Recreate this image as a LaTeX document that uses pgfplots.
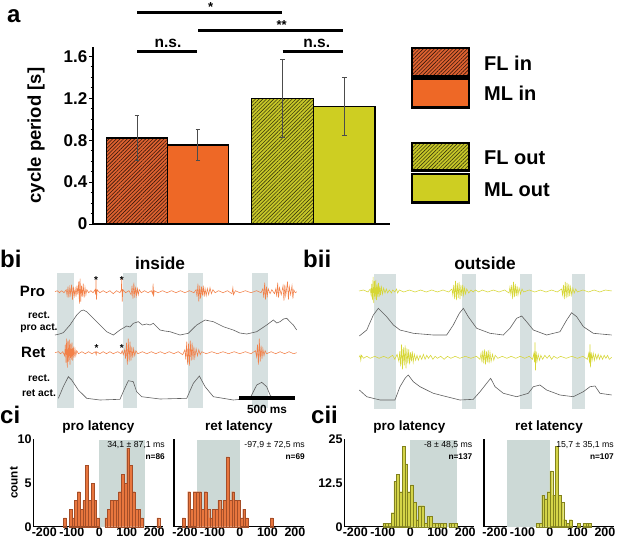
\documentclass[border=0pt]{standalone}
\usepackage{fontspec}
\setmainfont{Liberation Sans}
\usepackage{pgfplots}
\pgfplotsset{compat=1.18}
\usetikzlibrary{patterns.meta}
\newcommand{\fs}[1]{\fontsize{#1}{#1}\selectfont}
\definecolor{orB}{RGB}{238,104,38}
\definecolor{orF}{RGB}{222,98,48}
\definecolor{yeA}{RGB}{206,206,34}
\definecolor{yeF}{RGB}{200,200,40}
\definecolor{orTr}{RGB}{242,128,72}
\definecolor{yeTr}{RGB}{214,214,52}
\definecolor{band}{RGB}{214,224,224}
\definecolor{hband}{RGB}{204,217,214}
\definecolor{orH}{RGB}{232,118,62}
\definecolor{orHd}{RGB}{165,78,40}
\definecolor{yeH}{RGB}{212,212,72}
\definecolor{yeHd}{RGB}{130,130,30}
\definecolor{env}{RGB}{95,95,95}
\pgfplotsset{
  histo/.style={scale only axis, width=130pt, height=87.4pt, anchor=south west,
    xmin=-240, xmax=233, ymin=0, axis lines=left,
    axis line style={-, line width=1.3pt},
    xtick={-200,-100,0,100,200}, major tick length=0pt,
    /pgf/number format/assume math mode=true,
    ticklabel style={font=\fs{12.5}\bfseries},
    xticklabel style={inner sep=1pt},
    yticklabel style={inner sep=1.5pt},
    clip=false,
    title style={at={(axis description cs:0.5,1)}, anchor=base, yshift=3pt, font=\fs{13.5}\bfseries}},
  trace/.style={scale only axis, anchor=south west, height=142pt, ymin=130, ymax=272, hide axis, clip=false},
  ebar/.style={error bars/.cd, y dir=both, y explicit, error bar style={line width=0.9pt, draw=black!70},
    error mark options={rotate=90, line width=0.9pt, draw=black!70, mark size=2.3pt}}
}
\begin{document}
\begin{tikzpicture}
\useasboundingbox (0pt,0pt) rectangle (617pt,542pt);
% ================= panel a
\begin{axis}[at={(93pt,318pt)}, anchor=south west, scale only axis, width=297pt, height=177pt,
  xmin=93, xmax=390, ymin=0, ymax=1.69,
  axis lines=left, axis line style={-, line width=1.4pt},
  xtick=\empty,
  ytick={0,0.4,0.8,1.2,1.6}, yticklabels={0,0.4,0.8,1.2,1.6},
  minor y tick num=3,
  tick align=outside, major tick length=4pt, minor tick length=2.5pt,
  tick style={line width=0.8pt, black},
  yticklabel style={font=\fs{17}\bfseries, inner sep=1.5pt},
  ylabel={cycle period [s]},
  ylabel style={font=\fs{18.5}\bfseries, at={(axis description cs:0,0.5)}, anchor=center, yshift=57pt},
  clip=false]
\addplot[ybar, bar width=61, bar shift=0pt, fill=orF, draw=black, line width=1.3pt,
  postaction={pattern={Lines[angle=45,distance=2.6pt,line width=0.6pt]}, pattern color=black!75!orF}, ebar]
  coordinates {(137,0.82) +- (0,0.215)};
\addplot[ybar, bar width=61, bar shift=0pt, fill=orB, draw=black, line width=1.3pt, ebar]
  coordinates {(197.8,0.755) +- (0,0.15)};
\addplot[ybar, bar width=61.6, bar shift=0pt, fill=yeF, draw=black, line width=1.3pt,
  postaction={pattern={Lines[angle=45,distance=2.6pt,line width=0.6pt]}, pattern color=black!70!yeF}, ebar]
  coordinates {(282.5,1.2) +- (0,0.373)};
\addplot[ybar, bar width=61.7, bar shift=0pt, fill=yeA, draw=black, line width=1.3pt, ebar]
  coordinates {(344.2,1.122) +- (0,0.278)};
\end{axis}
\node[anchor=base west, font=\fs{24}\bfseries, inner sep=0pt] at (7pt,519pt) {a};
\draw[line width=3pt] (137pt,529.3pt) -- (281.7pt,529.3pt);
\draw[line width=3pt] (198pt,511pt) -- (343pt,511pt);
\draw[line width=3pt] (137pt,490.3pt) -- (197pt,490.3pt);
\draw[line width=3pt] (282.7pt,490.3pt) -- (343pt,490.3pt);
\node[anchor=base, font=\fs{13}\bfseries, inner sep=0pt] at (210.7pt,530.5pt) {*};
\node[anchor=base, font=\fs{13}\bfseries, inner sep=0pt] at (281.7pt,512.5pt) {**};
\node[anchor=base, font=\fs{15.5}\bfseries, inner sep=0pt] at (168pt,494pt) {n.s.};
\node[anchor=base, font=\fs{15.5}\bfseries, inner sep=0pt] at (316.7pt,494pt) {n.s.};
% legend
\fill[orF] (412pt,465.7pt) rectangle (469pt,494pt);
\path[pattern={Lines[angle=45,distance=2.6pt,line width=0.6pt]}, pattern color=black!75!orF] (412pt,465.7pt) rectangle (469pt,494pt);
\draw[line width=2.6pt] (412pt,465.7pt) rectangle (469pt,494pt);
\filldraw[fill=orB, line width=2.6pt] (412pt,434.3pt) rectangle (469pt,463pt);
\fill[yeF] (412pt,371.3pt) rectangle (469pt,399pt);
\path[pattern={Lines[angle=45,distance=2.6pt,line width=0.6pt]}, pattern color=black!70!yeF] (412pt,371.3pt) rectangle (469pt,399pt);
\draw[line width=2.6pt] (412pt,371.3pt) rectangle (469pt,399pt);
\filldraw[fill=yeA, line width=2.6pt] (412pt,339.3pt) rectangle (469pt,368pt);
\node[anchor=west, font=\fs{20}\bfseries, inner sep=0pt] at (484pt,479pt) {FL in};
\node[anchor=west, font=\fs{20}\bfseries, inner sep=0pt] at (484pt,448.7pt) {ML in};
\node[anchor=west, font=\fs{20}\bfseries, inner sep=0pt] at (484pt,384.3pt) {FL out};
\node[anchor=west, font=\fs{20}\bfseries, inner sep=0pt] at (484pt,352.7pt) {ML out};
% ================= panel bi
\begin{axis}[trace, at={(55pt,130pt)}, width=241.7pt, xmin=0, xmax=2158]
\addplot[fill=band, draw=none] coordinates {(20,134) (20,268.7) (170,268.7) (170,134)};
\addplot[fill=band, draw=none] coordinates {(610,134) (610,268.7) (730,268.7) (730,134)};
\addplot[fill=band, draw=none] coordinates {(1190,134) (1190,268.7) (1324,268.7) (1324,134)};
\addplot[fill=band, draw=none] coordinates {(1757,134) (1757,268.7) (1905,268.7) (1905,134)};
% Pro raw
\addplot[orTr, line width=0.55pt] table[row sep=\\, y expr=\thisrow{y}+250.3] {x y\\
0 0\\20 1\\40 -1\\60 1\\80 -1\\100 2\\108 -4\\116 5\\124 -6\\132 4\\140 -3\\148 7\\156 -8\\164 5\\172 -4\\180 3\\188 -5\\196 6\\204 -3\\212 10\\218 -12\\224 13\\230 -10\\236 6\\244 -5\\252 8\\260 -6\\268 4\\276 -3\\284 2\\300 -1\\320 1\\340 -1\\358 2\\363 -3\\366 12\\370 -8\\376 2\\400 -1\\430 1\\460 -1\\490 1\\520 -2\\550 1\\580 -1\\592 2\\596 14\\600 -10\\606 2\\630 -1\\660 1\\680 -3\\688 6\\696 -7\\704 9\\712 -6\\720 5\\728 -4\\736 3\\744 -3\\752 2\\770 -1\\800 1\\830 -1\\860 1\\872 -2\\876 8\\880 -5\\886 1\\920 -1\\960 1\\1000 -1\\1040 1\\1080 -1\\1120 1\\1160 -1\\1200 1\\1240 -1\\1260 2\\1268 -5\\1276 8\\1284 -10\\1292 6\\1300 -7\\1308 5\\1316 -4\\1324 6\\1332 -5\\1340 3\\1350 -4\\1360 3\\1372 -3\\1384 4\\1396 -2\\1410 2\\1430 -1\\1460 1\\1500 -1\\1540 1\\1580 -2\\1588 4\\1594 -3\\1610 1\\1650 -1\\1700 1\\1750 -1\\1800 1\\1840 -1\\1856 3\\1864 -6\\1872 9\\1880 -8\\1888 5\\1896 -4\\1904 3\\1920 -2\\1936 2\\1960 -2\\1972 3\\1980 -5\\1988 9\\1996 -6\\2004 4\\2020 -3\\2036 6\\2044 -9\\2052 7\\2060 -4\\2076 10\\2084 -8\\2092 5\\2104 -3\\2116 6\\2124 -7\\2132 2\\2145 -1\\2158 0\\};
% Pro envelope
\addplot[env, line width=0.6pt] coordinates {(0,207) (40,208) (74,209.3) (134,217) (194,227) (230,231) (253,232) (283,230.3) (342,223.7) (402,217) (461,210.3) (521,207) (580,212) (610,214) (640,216) (670,215) (699,218.7) (744,220.3) (780,217) (818,218) (848,217) (878,218.7) (938,212) (980,211) (1027,210.3) (1116,207) (1190,208.7) (1265,217) (1340,222) (1414,220.3) (1503,215.3) (1592,212) (1650,209) (1712,208) (1801,210.3) (1890,217) (1950,222) (1980,219) (2009,220.3) (2040,223) (2069,223.7) (2100,220) (2128,217) (2158,212)};
% Ret raw
\addplot[orTr, line width=0.55pt] table[row sep=\\, y expr=\thisrow{y}+189.3] {x y\\
0 0\\30 1\\50 -1\\70 1\\86 -3\\92 8\\98 -10\\104 14\\110 -15\\116 12\\122 -9\\128 13\\134 -12\\140 9\\146 -7\\152 10\\158 -8\\164 6\\170 -5\\178 4\\186 -3\\194 2\\210 -1\\240 1\\270 -1\\300 1\\330 -1\\360 1\\368 -2\\372 1\\400 -1\\430 1\\460 -1\\490 1\\520 -1\\560 1\\590 -1\\600 2\\610 -2\\622 3\\630 -6\\638 10\\646 -12\\654 14\\662 -9\\670 11\\678 -8\\686 6\\694 -5\\702 4\\712 -3\\722 2\\740 -1\\780 1\\820 -1\\860 1\\900 -1\\940 1\\980 -1\\1020 1\\1060 -1\\1100 1\\1140 -2\\1160 3\\1168 -7\\1176 11\\1184 -12\\1192 9\\1200 -13\\1208 12\\1216 -8\\1224 10\\1232 -7\\1240 6\\1248 -5\\1260 4\\1272 -3\\1284 3\\1296 -2\\1310 1\\1350 -1\\1400 1\\1450 -1\\1500 1\\1550 -1\\1600 1\\1650 -1\\1700 1\\1750 -1\\1790 2\\1800 -4\\1808 8\\1816 -12\\1824 14\\1832 -9\\1840 7\\1848 -6\\1856 4\\1866 -3\\1876 2\\1890 -1\\1930 1\\1970 -1\\2010 1\\2050 -1\\2090 1\\2130 -1\\2158 0\\};
% Ret envelope
\addplot[env, line width=0.6pt] coordinates {(30,143.7) (74,155.3) (119,165.3) (149,162) (208,152) (283,143.7) (402,142) (580,142.7) (616,152) (655,161.3) (699,160.3) (729,150.3) (774,145.3) (938,143) (1176,143.7) (1235,158.7) (1289,166) (1340,155.3) (1414,145.3) (1592,142) (1741,143.7) (1801,157) (1846,159.7) (1890,155.3) (1920,147) (1950,143.7)};
\node[font=\fs{10}\bfseries, anchor=base, inner sep=0pt] at (axis cs:366,259) {*};
\node[font=\fs{10}\bfseries, anchor=base, inner sep=0pt] at (axis cs:596,259) {*};
\node[font=\fs{10}\bfseries, anchor=base, inner sep=0pt] at (axis cs:372,190.5) {*};
\node[font=\fs{10}\bfseries, anchor=base, inner sep=0pt] at (axis cs:596,190.5) {*};
\draw[line width=4pt] (axis cs:1643,144) -- (axis cs:2143,144);
\node[font=\fs{11.8}\bfseries, inner sep=0pt] at (axis cs:1893,133) {500 ms};
\end{axis}
\node[anchor=base west, font=\fs{24}\bfseries, inner sep=0pt] at (0pt,275pt) {bi};
\node[font=\fs{17.3}\bfseries, inner sep=0pt] at (160pt,279pt) {inside};
\node[font=\fs{15}\bfseries, inner sep=0pt] at (32.5pt,251pt) {Pro};
\node[font=\fs{10.3}\bfseries, inner sep=0pt] at (39pt,227pt) {rect.};
\node[font=\fs{10.3}\bfseries, inner sep=0pt] at (39pt,213.7pt) {pro act.};
\node[font=\fs{15}\bfseries, inner sep=0pt] at (33.3pt,190pt) {Ret};
\node[font=\fs{10.3}\bfseries, inner sep=0pt] at (39pt,163.7pt) {rect.};
\node[font=\fs{10.3}\bfseries, inner sep=0pt] at (39pt,149.3pt) {ret act.};
% ================= panel bii
\begin{axis}[trace, at={(359pt,130pt)}, width=252.7pt, xmin=0, xmax=2257]
\addplot[fill=band, draw=none] coordinates {(134,133) (134,268) (330,268) (330,133)};
\addplot[fill=band, draw=none] coordinates {(917,133) (917,268) (1042,268) (1042,133)};
\addplot[fill=band, draw=none] coordinates {(1438,133) (1438,268) (1542,268) (1542,133)};
\addplot[fill=band, draw=none] coordinates {(1899,133) (1899,268) (2018,268) (2018,133)};
\addplot[yeTr, line width=0.55pt] table[row sep=\\, y expr=\thisrow{y}+251] {x y\\
0 0\\40 1\\80 -1\\100 2\\108 -4\\114 7\\120 -9\\126 14\\132 -12\\138 10\\144 -8\\150 11\\156 -9\\162 7\\168 -6\\174 8\\180 -6\\186 5\\192 -4\\200 4\\210 -3\\220 3\\232 -2\\244 2\\256 -2\\270 1\\290 -2\\300 1\\320 -1\\335 2\\345 -2\\360 1\\400 -1\\450 1\\500 -1\\550 1\\600 -1\\650 1\\700 -1\\750 1\\800 -1\\830 2\\838 -4\\846 6\\854 -8\\862 10\\870 -9\\878 8\\886 -7\\894 9\\902 -8\\910 6\\918 -5\\926 6\\934 -4\\942 3\\952 -3\\962 2\\980 -2\\1000 1\\1020 -1\\1040 1\\1070 -1\\1100 1\\1150 -1\\1200 1\\1250 -1\\1300 1\\1340 -2\\1348 4\\1356 -3\\1364 6\\1372 -8\\1380 9\\1388 -6\\1396 7\\1404 -5\\1412 5\\1420 -4\\1430 3\\1442 -3\\1456 2\\1470 -1\\1520 1\\1570 -1\\1620 1\\1670 -1\\1720 1\\1770 -1\\1810 2\\1818 -4\\1826 6\\1834 -8\\1842 9\\1850 -7\\1858 8\\1866 -6\\1874 7\\1882 -5\\1890 4\\1900 -4\\1910 3\\1922 -2\\1936 2\\1950 -1\\2000 1\\2050 -1\\2100 1\\2150 -1\\2200 1\\2257 0\\};
\addplot[env, line width=0.6pt] coordinates {(3,206) (69,212) (128,227) (173,233.7) (203,230.3) (247,225.3) (307,217) (366,212) (485,208.7) (664,207) (783,207) (842,217) (896,228.7) (932,233.7) (976,225.3) (1051,213.7) (1170,208.7) (1289,207) (1348,213.7) (1408,223.7) (1453,226) (1497,220.3) (1557,212) (1676,207) (1795,210.3) (1855,222) (1899,229.3) (1944,225.3) (2004,215.3) (2093,208.7) (2257,207)};
\addplot[yeTr, line width=0.55pt] table[row sep=\\, y expr=\thisrow{y}+184.7] {x y\\
0 0\\10 2\\16 -3\\22 2\\40 -1\\70 1\\100 -1\\140 1\\180 -1\\220 1\\260 -1\\300 2\\320 -2\\340 3\\356 -4\\364 6\\372 -9\\380 13\\388 -12\\396 10\\404 -8\\412 12\\420 -11\\428 9\\436 -6\\444 8\\452 -7\\460 5\\468 -4\\476 6\\484 -5\\494 3\\506 -3\\518 2\\530 -3\\545 2\\560 -2\\575 3\\590 -2\\605 2\\620 -1\\640 2\\660 -2\\680 1\\700 -1\\730 1\\760 -2\\790 1\\820 -1\\860 1\\900 -1\\950 1\\1000 -1\\1050 1\\1080 -2\\1090 4\\1098 -5\\1106 7\\1114 -6\\1122 8\\1130 -7\\1138 6\\1146 -5\\1154 7\\1162 -6\\1170 5\\1180 -4\\1192 3\\1204 -3\\1216 2\\1240 -1\\1280 1\\1320 -1\\1360 1\\1400 -1\\1440 1\\1480 -1\\1520 1\\1550 -2\\1562 4\\1568 -5\\1572 15\\1576 -13\\1582 6\\1590 -4\\1600 3\\1612 -3\\1624 2\\1640 -2\\1660 2\\1680 -1\\1700 2\\1720 -2\\1740 1\\1770 -1\\1800 1\\1850 -1\\1900 1\\1950 -1\\2000 1\\2040 -2\\2052 4\\2058 -6\\2063 13\\2068 -10\\2074 5\\2082 -3\\2092 4\\2102 -3\\2112 3\\2124 -2\\2136 3\\2148 -2\\2160 2\\2175 -2\\2190 2\\2205 -1\\2220 2\\2235 -2\\2257 0\\};
\addplot[env, line width=0.6pt] coordinates {(3,152) (69,145.3) (188,142) (321,142) (366,155.3) (411,163.7) (440,167) (485,160.3) (545,155.3) (604,152) (664,148.7) (783,145.3) (902,142) (1021,142.7) (1081,150.3) (1140,158.7) (1176,163.7) (1215,155.3) (1289,148.7) (1408,145.3) (1512,148.7) (1557,155.3) (1616,157) (1676,152) (1795,147) (1914,145.3) (2004,150.3) (2063,155.3) (2108,156) (2152,148.7) (2257,147)};
\end{axis}
\node[anchor=base west, font=\fs{24}\bfseries, inner sep=0pt] at (303pt,275pt) {bii};
\node[font=\fs{17.3}\bfseries, inner sep=0pt] at (485pt,279pt) {outside};
% ================= panel ci
\begin{axis}[histo, at={(33.3pt,15.3pt)}, ymax=10, ytick={0,5,10}, title={pro latency},
  ylabel={count}, ylabel style={font=\fs{11.7}\bfseries, at={(axis description cs:0,0.5)}, anchor=center, yshift=19.5pt}]
\addplot[sharp plot, fill=hband, draw=none] coordinates {(0,0) (0,9.9) (167,9.9) (167,0)};
\addplot[ybar, bar width=10, bar shift=0pt, fill=orH, draw=orHd, line width=0.4pt] coordinates {(-125,1) (-105,2) (-95,1) (-85,3) (-75,4) (-65,2) (-55,3) (-45,7) (-35,3) (-25,5) (-15,3) (-5,1) (25,1) (35,2) (45,3) (55,3) (65,3) (75,4) (85,6) (95,5) (105,9) (115,7) (125,4) (135,2) (145,2) (155,1) (215,1)};
\end{axis}
\begin{axis}[histo, at={(174pt,15.3pt)}, ymax=10, ytick=\empty, title={ret latency}]
\addplot[sharp plot, fill=hband, draw=none] coordinates {(-155,0) (-155,9.9) (0,9.9) (0,0)};
\addplot[ybar, bar width=10, bar shift=0pt, fill=orH, draw=orHd, line width=0.4pt] coordinates {(-205,1) (-185,4) (-175,2) (-165,4) (-155,4) (-145,4) (-135,2) (-125,4) (-115,2) (-105,1) (-95,2) (-85,2) (-75,3) (-65,2) (-55,3) (-45,8) (-35,3) (-25,4) (-15,3) (-5,3) (5,1) (15,2) (25,1) (115,1)};
\end{axis}
\node[anchor=base west, font=\fs{24}\bfseries, inner sep=0pt] at (0pt,119pt) {ci};
\node[anchor=east, font=\fs{8.7}, inner sep=0pt] at (165pt,97pt) {34,1 ± 87,1 ms};
\node[anchor=east, font=\fs{8.3}\bfseries, inner sep=0pt] at (165pt,85.3pt) {n=86};
\node[anchor=east, font=\fs{8.7}, inner sep=0pt] at (305pt,97pt) {-97,9 ± 72,5 ms};
\node[anchor=east, font=\fs{8.3}\bfseries, inner sep=0pt] at (305pt,85.3pt) {n=69};
% ================= panel cii
\begin{axis}[histo, at={(344.3pt,15.3pt)}, ymax=25, ytick={0,12.5,25}, title={pro latency}]
\addplot[sharp plot, fill=hband, draw=none] coordinates {(0,0) (0,24.8) (170,24.8) (170,0)};
\addplot[ybar, bar width=10, bar shift=0pt, fill=yeH, draw=yeHd, line width=0.4pt] coordinates {(-95,1) (-85,1) (-75,1) (-65,4) (-55,13) (-45,15) (-35,10) (-25,23) (-15,18) (-5,10) (5,12) (15,7) (25,2) (35,6) (45,6) (55,1) (65,3) (75,3) (85,1) (95,1) (105,1) (115,1) (125,1) (145,1) (155,1) (165,1)};
\end{axis}
\begin{axis}[histo, at={(484pt,15.3pt)}, ymax=25, ytick=\empty, title={ret latency}]
\addplot[sharp plot, fill=hband, draw=none] coordinates {(-155,0) (-155,24.8) (0,24.8) (0,0)};
\addplot[ybar, bar width=10, bar shift=0pt, fill=yeH, draw=yeHd, line width=0.4pt] coordinates {(-45,1) (-35,1) (-25,9) (-15,8) (-5,10) (5,16) (15,9) (25,23) (35,9) (45,7) (55,2) (65,1) (75,2) (105,1) (125,1) (135,1) (145,1)};
\end{axis}
\node[anchor=base west, font=\fs{24}\bfseries, inner sep=0pt] at (311pt,119pt) {cii};
\node[anchor=east, font=\fs{8.7}, inner sep=0pt] at (472.5pt,97pt) {-8 ± 48,5 ms};
\node[anchor=east, font=\fs{8.3}\bfseries, inner sep=0pt] at (472.5pt,85.3pt) {n=137};
\node[anchor=east, font=\fs{8.7}, inner sep=0pt] at (614pt,97pt) {15,7 ± 35,1 ms};
\node[anchor=east, font=\fs{8.3}\bfseries, inner sep=0pt] at (614pt,85.3pt) {n=107};
\end{tikzpicture}
\end{document}
